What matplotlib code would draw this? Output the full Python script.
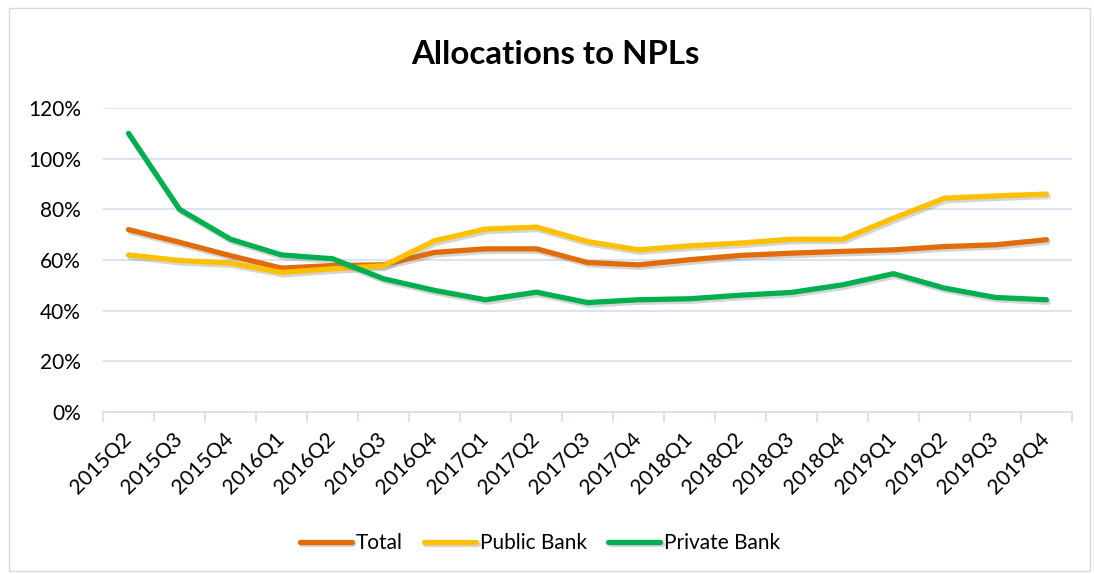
import matplotlib
matplotlib.use("Agg")
import matplotlib.pyplot as plt
import matplotlib.patheffects as pe
from matplotlib.ticker import FuncFormatter, FixedLocator, MultipleLocator
from matplotlib.patches import Rectangle

quarters = ["2015Q2", "2015Q3", "2015Q4", "2016Q1", "2016Q2", "2016Q3", "2016Q4",
            "2017Q1", "2017Q2", "2017Q3", "2017Q4", "2018Q1", "2018Q2", "2018Q3",
            "2018Q4", "2019Q1", "2019Q2", "2019Q3", "2019Q4"]
total = [72, 67, 61.7, 56.8, 57.8, 58.1, 63, 64.4, 64.4, 59, 58.1, 60.1, 61.8, 62.7,
         63.4, 64, 65.3, 66, 68]
public_bank = [62, 59.8, 58.8, 55.1, 56.5, 57.7, 67.6, 72.2, 73, 67.3, 64, 65.6, 66.7,
               68.2, 68.2, 76.5, 84.4, 85.3, 86]
private_bank = [110, 80, 68.2, 62, 60.5, 52.6, 48, 44.3, 47.3, 43.2, 44.3, 44.7, 46.1,
                47.2, 50.2, 54.6, 48.9, 45.2, 44.3]

series = [("Total", total, "#E36C0A"),
          ("Public Bank", public_bank, "#FFC000"),
          ("Private Bank", private_bank, "#00B050")]

plt.rcParams['font.family'] = ['Lato', 'DejaVu Sans']

W, H = 1094, 574
fig = plt.figure(figsize=(W / 100, H / 100), dpi=100)
ax = fig.add_axes([103 / W, 1 - 412 / H, (1072 - 103) / W, (412 - 108) / H])

x = list(range(len(quarters)))
shadow = [pe.SimpleLineShadow(offset=(1.2, -1.8), shadow_color="#777777", alpha=0.3), pe.Normal()]
for name, vals, col in series:
    ax.plot(x, vals, color=col, lw=3.8, solid_capstyle="round", solid_joinstyle="round",
            label=name, path_effects=shadow, zorder=3)

ax.set_xlim(-0.5, len(quarters) - 0.5)
ax.set_ylim(0, 120)
ax.yaxis.set_major_locator(MultipleLocator(20))
ax.yaxis.set_major_formatter(FuncFormatter(lambda v, p: f"{int(v)}%"))
ax.grid(axis="y", color="#D6E0F0", lw=1.3, zorder=0)
ax.set_axisbelow(True)
for s in ["top", "right", "left"]:
    ax.spines[s].set_visible(False)
ax.spines["bottom"].set_color("#D6E0F0")
ax.spines["bottom"].set_linewidth(1.3)

ax.set_xticks(x)
ax.set_xticklabels(quarters, rotation=45, ha="right", va="center", rotation_mode="anchor",
                   fontsize=15)
ax.tick_params(axis="x", which="major", length=0, pad=17)
ax.xaxis.set_minor_locator(FixedLocator([i - 0.5 for i in range(len(quarters) + 1)]))
ax.tick_params(axis="x", which="minor", length=7, width=1.3, color="#D6E0F0")
ax.tick_params(axis="y", length=0, labelsize=15, pad=16)

fig.text(555 / W, 1 - 55 / H, "Allocations to NPLs", ha="center", va="center",
         fontsize=23.8, fontweight="bold")

leg = fig.legend(loc="center", bbox_to_anchor=(540 / W, 1 - 543 / H), ncol=3, frameon=False,
                 fontsize=15, handlelength=2.5, handletextpad=0.2, columnspacing=1.0)

fig.patches.append(Rectangle((9 / W, 3 / H), (1090 - 9) / W, (566 - 3) / H,
                             transform=fig.transFigure, fill=False, edgecolor="#D9D9D9", lw=1))

fig.savefig("out.png", dpi=100)
